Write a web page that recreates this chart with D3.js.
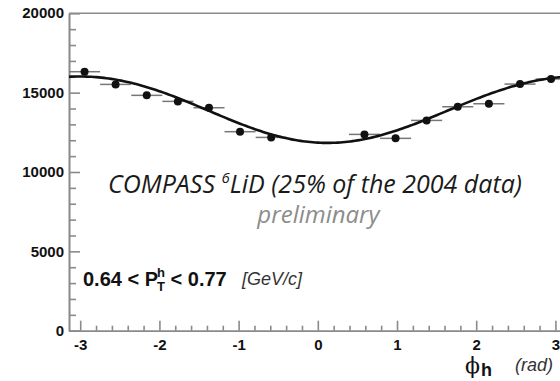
<!DOCTYPE html>
<html>
<head>
<meta charset="utf-8">
<script src="https://cdn.jsdelivr.net/npm/d3@7"></script>
<style>
  html, body { margin: 0; padding: 0; background: #fff; }
  svg { display: block; }
</style>
</head>
<body>
<svg id="chart" width="560" height="381"></svg>
<script>
// Azimuthal distribution of hadrons, COMPASS 6LiD, 0.64 < pT < 0.77 GeV/c
const binCenters = [-2.945, -2.553, -2.160, -1.767, -1.374, -0.982, -0.589,
                     0.589,  0.982,  1.374,  1.767,  2.160,  2.553,  2.945];
const binHalfWidth = 0.196;
const counts = [16320, 15520, 14830, 14450, 14050, 12540, 12180,
                12370, 12120, 13250, 14110, 14300, 15540, 15860];

// Fit: p0 + p1*cos(phi) + p2*cos(2phi) + p3*sin(phi)
const fitParams = [13960, -2075, -35, -270];

const xMajorTicks = [-3, -2, -1, 0, 1, 2, 3];
const yMajorTicks = [0, 5000, 10000, 15000, 20000];

const svg = d3.select("#chart");

const x = d3.scaleLinear().domain([-Math.PI, Math.PI]).range([69, 69 + 2 * Math.PI * 79.2]);
const y = d3.scaleLinear().domain([0, 20000]).range([330.7, 13.3]);

const axisColor = "#8a8a8a";
const labelFont = "'Liberation Sans', Arial, sans-serif";

// top frame line
svg.append("line")
  .attr("x1", x(-Math.PI)).attr("x2", x(Math.PI))
  .attr("y1", y(20000)).attr("y2", y(20000))
  .attr("stroke", axisColor).attr("stroke-width", 1.6);

// x axis: minor ticks every 0.2, major at integers
const xMinor = d3.range(-15, 16).map(i => i / 5).filter(v => Math.abs(v - Math.round(v)) > 1e-9);
const gxMinor = svg.append("g").attr("transform", `translate(0,${y(0)})`)
  .call(d3.axisBottom(x).tickValues(xMinor).tickSize(-5).tickSizeOuter(0).tickFormat(""));
const gx = svg.append("g").attr("transform", `translate(0,${y(0)})`)
  .call(d3.axisBottom(x).tickValues(xMajorTicks).tickSize(-10).tickSizeOuter(0)
        .tickPadding(6).tickFormat(d => d < 0 ? "-" + Math.abs(d) : String(d)));

// y axis: minor ticks every 1000
const yMinor = d3.range(1000, 20000, 1000).filter(v => v % 5000 !== 0);
const gyMinor = svg.append("g").attr("transform", `translate(${x(-Math.PI)},0)`)
  .call(d3.axisLeft(y).tickValues(yMinor).tickSize(-7).tickSizeOuter(0).tickFormat(""));
const gy = svg.append("g").attr("transform", `translate(${x(-Math.PI)},0)`)
  .call(d3.axisLeft(y).tickValues(yMajorTicks).tickSize(-11).tickSizeOuter(0)
        .tickPadding(5).tickFormat(d3.format("d")));

[gxMinor, gx, gyMinor, gy].forEach(g => {
  g.selectAll("path, line").attr("stroke", axisColor).attr("stroke-width", 1.6);
  g.selectAll("text").attr("fill", "#111").attr("font-family", labelFont)
    .attr("font-weight", "bold").attr("font-size", 15);
});
gx.selectAll("text").attr("dy", "0.9em");
gy.select(".tick:last-child text").attr("dy", "0.3em");

// horizontal bin-width bars
svg.append("g").selectAll("line")
  .data(binCenters)
  .join("line")
  .attr("x1", (d) => x(d - binHalfWidth))
  .attr("x2", (d) => x(d + binHalfWidth))
  .attr("y1", (d, i) => y(counts[i]))
  .attr("y2", (d, i) => y(counts[i]))
  .attr("stroke", "#777").attr("stroke-width", 1.5);

// fit curve
const fitFn = phi => fitParams[0] + fitParams[1] * Math.cos(phi)
  + fitParams[2] * Math.cos(2 * phi) + fitParams[3] * Math.sin(phi);
const phiGrid = d3.range(0, 201).map(i => -Math.PI + i * (2 * Math.PI / 200));
svg.append("path")
  .datum(phiGrid)
  .attr("d", d3.line().x(p => x(p)).y(p => y(fitFn(p))))
  .attr("fill", "none").attr("stroke", "#111").attr("stroke-width", 2.6);

// data markers
svg.append("g").selectAll("circle")
  .data(binCenters)
  .join("circle")
  .attr("cx", d => x(d))
  .attr("cy", (d, i) => y(counts[i]))
  .attr("r", 4)
  .attr("fill", "#111");

// annotations
const title = svg.append("text")
  .attr("x", 108).attr("y", 193)
  .attr("font-family", "'Open Sans', 'Noto Sans', sans-serif")
  .attr("font-style", "italic").attr("font-size", 25).attr("fill", "#1a1a1a");
title.append("tspan").text("COMPASS ");
title.append("tspan").attr("font-size", 15).attr("dy", -10).text("6");
title.append("tspan").attr("dy", 10).text("LiD (25% of the 2004 data)");

svg.append("text")
  .attr("x", 318.5).attr("y", 223).attr("text-anchor", "middle")
  .attr("font-family", "'Open Sans', 'Noto Sans', sans-serif")
  .attr("font-style", "italic").attr("font-size", 24).attr("fill", "#8c8c8c")
  .text("preliminary");

const pt = svg.append("text")
  .attr("x", 83).attr("y", 286)
  .attr("font-family", labelFont).attr("font-weight", "bold")
  .attr("font-size", 20).attr("fill", "#111");
pt.append("tspan").text("0.64 < P");
pt.append("tspan").attr("font-size", 13).attr("dx", -1).attr("dy", -9).text("h");
pt.append("tspan").attr("font-size", 13).attr("dx", -8).attr("dy", 14).text("T");
pt.append("tspan").attr("dy", -5).text(" < 0.77");

svg.append("text")
  .attr("x", 242).attr("y", 285)
  .attr("font-family", labelFont).attr("font-style", "italic")
  .attr("font-size", 18).attr("fill", "#333")
  .text("[GeV/c]");

const ax = svg.append("text")
  .attr("x", 465).attr("y", 373)
  .attr("font-family", "'DejaVu Serif', serif")
  .attr("font-size", 22).attr("fill", "#111");
ax.append("tspan").text("\u03D5");
ax.append("tspan").attr("font-family", labelFont).attr("font-weight", "bold")
  .attr("font-size", 18).attr("dx", 1).attr("dy", 3).text("h");

svg.append("text")
  .attr("x", 515).attr("y", 371)
  .attr("font-family", labelFont).attr("font-style", "italic")
  .attr("font-size", 18).attr("fill", "#333")
  .text("(rad)");
</script>
</body>
</html>
